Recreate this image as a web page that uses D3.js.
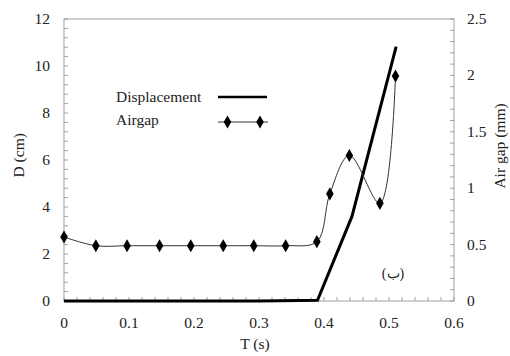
<!DOCTYPE html>
<html>
<head>
<meta charset="utf-8">
<script src="https://cdn.jsdelivr.net/npm/d3@7"></script>
<style>
  body { margin: 0; background: #fff; }
</style>
</head>
<body>
<div id="wrapper"></div>
<script>
// dados
const timeAir = [0, 0.049, 0.097, 0.147, 0.195, 0.245, 0.292, 0.341, 0.389, 0.409, 0.439, 0.486, 0.51];
const airgap  = [0.567, 0.49, 0.49, 0.49, 0.49, 0.49, 0.49, 0.49, 0.526, 0.95, 1.29, 0.866, 1.995];
const timeDisp = [0, 0.3, 0.39, 0.443, 0.511];
const displacement = [0, 0, 0.03, 3.6, 10.82];

const xTicks = [0, 0.1, 0.2, 0.3, 0.4, 0.5, 0.6];
const yLeftTicks = [0, 2, 4, 6, 8, 10, 12];
const yRightTicks = [0, 0.5, 1, 1.5, 2, 2.5];

async function draw() {
  const dimensions = {
    width: 510,
    height: 356,
    margin: { top: 19, right: 56, bottom: 55, left: 64 }
  };
  dimensions.innerWidth = dimensions.width - dimensions.margin.left - dimensions.margin.right;
  dimensions.innerHeight = dimensions.height - dimensions.margin.top - dimensions.margin.bottom;

  const svg = d3.select("#wrapper")
    .append("svg")
      .attr("width", dimensions.width)
      .attr("height", dimensions.height)
      .attr("font-family", "'Liberation Serif', 'DejaVu Serif', serif")
      .attr("fill", "#222");

  const bounds = svg.append("g")
    .attr("transform", "translate(" + dimensions.margin.left + "," + dimensions.margin.top + ")");

  const W = dimensions.innerWidth, H = dimensions.innerHeight;
  const fs = 15.5;

  // Scales
  const x = d3.scaleLinear().domain([0, 0.6]).range([0, W]);
  const yL = d3.scaleLinear().domain([0, 12]).range([H, 0]);
  const yR = d3.scaleLinear().domain([0, 2.5]).range([H, 0]);

  // moldura
  bounds.append("rect")
    .attr("width", W).attr("height", H)
    .attr("fill", "none").attr("stroke", "#a0a0a0").attr("stroke-width", 1);

  // ticks menores (para dentro)
  const minor = bounds.append("g").attr("stroke", "#a0a0a0").attr("stroke-width", 1);
  d3.range(0, 0.6001, 0.02).forEach(v => {
    minor.append("line").attr("x1", x(v)).attr("x2", x(v)).attr("y1", H).attr("y2", H - 4);
  });
  d3.range(0, 12.001, 0.4).forEach(v => {
    minor.append("line").attr("x1", 0).attr("x2", 4).attr("y1", yL(v)).attr("y2", yL(v));
  });
  d3.range(0, 2.5001, 0.1).forEach(v => {
    minor.append("line").attr("x1", W).attr("x2", W - 4).attr("y1", yR(v)).attr("y2", yR(v));
  });

  // labels dos ticks
  bounds.append("g").selectAll("text").data(xTicks).join("text")
    .attr("x", d => x(d)).attr("y", H + 27)
    .attr("text-anchor", "middle").attr("font-size", fs)
    .text(d => d3.format("")(d));
  bounds.append("g").selectAll("text").data(yLeftTicks).join("text")
    .attr("x", -14).attr("y", d => yL(d) + 5)
    .attr("text-anchor", "end").attr("font-size", fs)
    .text(d => d);
  bounds.append("g").selectAll("text").data(yRightTicks).join("text")
    .attr("x", W + 13).attr("y", d => yR(d) + 5)
    .attr("text-anchor", "start").attr("font-size", fs)
    .text(d => d);

  // títulos dos eixos
  bounds.append("text")
    .attr("x", W / 2 - 4).attr("y", H + 48)
    .attr("text-anchor", "middle").attr("font-size", fs)
    .text("T (s)");
  bounds.append("text")
    .attr("transform", "translate(" + (-40) + "," + (yL(6.2)) + ") rotate(-90)")
    .attr("text-anchor", "middle").attr("font-size", fs)
    .text("D (cm)");
  bounds.append("text")
    .attr("transform", "translate(" + (W + 51) + "," + (146 - dimensions.margin.top) + ") rotate(-90)")
    .attr("text-anchor", "middle").attr("font-size", fs)
    .text("Air gap (mm)");

  // Displacement
  const dispLine = d3.line()
    .x((d, i) => x(timeDisp[i]))
    .y(d => yL(d));
  bounds.append("path")
    .attr("d", dispLine(displacement))
    .attr("fill", "none").attr("stroke", "#000").attr("stroke-width", 3);

  // Airgap (linha suavizada)
  const airLine = d3.line()
    .x((d, i) => x(timeAir[i]))
    .y(d => yR(d))
    .curve(d3.curveCatmullRom.alpha(0.5));
  bounds.append("path")
    .attr("d", airLine(airgap))
    .attr("fill", "none").attr("stroke", "#333").attr("stroke-width", 1);

  const diamond = d3.symbol().type(d3.symbolDiamond).size(50);
  bounds.append("g").selectAll("path").data(airgap).join("path")
    .attr("transform", (d, i) => "translate(" + x(timeAir[i]) + "," + yR(d) + ")")
    .attr("d", diamond)
    .attr("fill", "#000");

  // legenda
  const legend = svg.append("g");
  legend.append("text").attr("x", 116).attr("y", 102).attr("font-size", fs).text("Displacement");
  legend.append("line").attr("x1", 218).attr("x2", 267).attr("y1", 97).attr("y2", 97)
    .attr("stroke", "#000").attr("stroke-width", 2.5);
  legend.append("text").attr("x", 116).attr("y", 125).attr("font-size", fs).text("Airgap");
  legend.append("line").attr("x1", 218).attr("x2", 268).attr("y1", 122).attr("y2", 122)
    .attr("stroke", "#333").attr("stroke-width", 1);
  legend.append("g").selectAll("path").data([227.5, 260]).join("path")
    .attr("transform", d => "translate(" + d + ",122)")
    .attr("d", diamond).attr("fill", "#000");

  // marcador do painel
  svg.append("text").attr("x", 393).attr("y", 278)
    .attr("text-anchor", "middle").attr("font-size", 14)
    .text("(ب)");
}
draw();
</script>
</body>
</html>
